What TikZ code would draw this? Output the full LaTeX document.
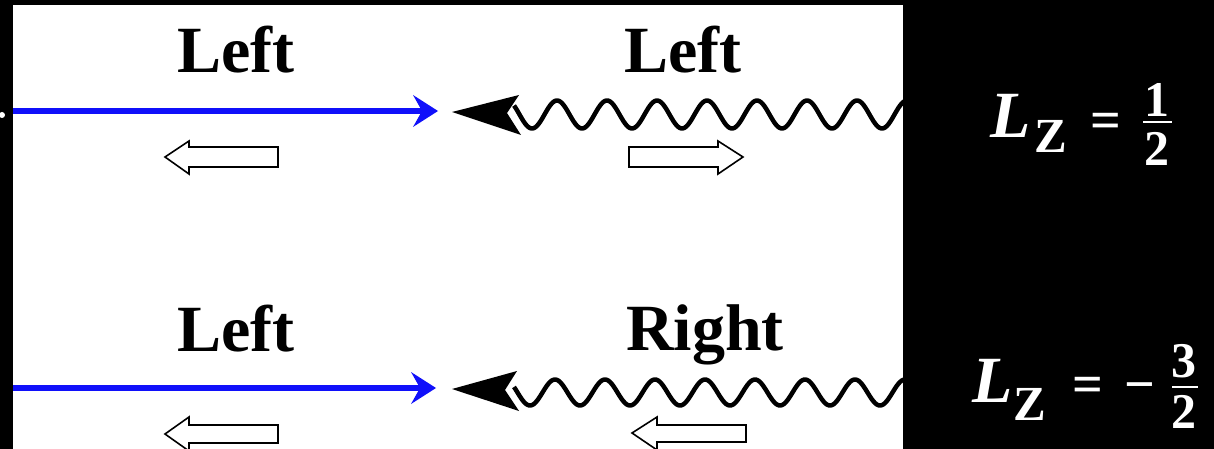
\documentclass[tikz,border=0pt]{standalone}
\usepackage{fontspec}
\setmainfont{Liberation Serif}
\newfontfamily\fmlafont{Liberation Serif}
\usetikzlibrary{arrows.meta}
\definecolor{rayblue}{RGB}{16,16,250}
\begin{document}
\begin{tikzpicture}[x=1pt,y=-1pt,
  lbl/.style={font=\fontsize{66}{66}\selectfont\bfseries, anchor=base, inner sep=0pt},
  bigL/.style={font=\fmlafont\fontsize{66}{66}\selectfont\bfseries\itshape, text=white, anchor=base west, inner sep=0pt},
  subZ/.style={font=\fmlafont\fontsize{49}{49}\selectfont\bfseries, text=white, anchor=base west, inner sep=0pt},
  eqs/.style={font=\fmlafont\fontsize{54}{54}\selectfont\bfseries, text=white, anchor=base, inner sep=0pt},
  digit/.style={font=\fmlafont\fontsize{50}{50}\selectfont\bfseries, text=white, anchor=base, inner sep=0pt},
  fracbar/.style={white, line width=2.5pt},
  ray/.style={rayblue, line width=6pt, -{Stealth[length=25pt,width=32pt,inset=9pt,line width=0pt]}},
  wave/.style={black, line width=4.5pt, line join=round},
  whead/.style={black},
  hollow/.style={draw=black, fill=white, line width=1.6pt, line join=miter}
]
\fill[black] (0,0) rectangle (1214,449);
\useasboundingbox (0,0) rectangle (1214,449);
\fill[white] (13,5) rectangle (903,449);
\fill[white] (2,115) circle (3);

% ---------- top row ----------
\coordinate (r1s) at (13,111);
\coordinate (r1e) at (438,111);
\draw[ray] (r1s) -- (r1e);

\node[lbl] (t1) at (236,73) {Left};
\node[lbl] (t2) at (683,73) {Left};

\begin{scope}
\clip (13,5) rectangle (903,449);
\draw[wave] plot[domain=514:910, samples=240, smooth] (\x,{114.5-14*cos(7.2*(\x-557))});
\draw[wave] plot[domain=514:910, samples=240, smooth] (\x,{392.5-13*cos(7.2*(\x-555))});
\end{scope}
\coordinate (w1tip) at (452,112);
\fill[whead] (w1tip) -- (519,95) -- (507,113) -- (521,135) -- cycle;

\draw[hollow] (165,157) -- (189,141) -- (189,147) -- (278,147) -- (278,167) -- (189,167) -- (189,174) -- cycle;
\draw[hollow] (743,157) -- (718,141) -- (718,147) -- (629,147) -- (629,167) -- (718,167) -- (718,174) -- cycle;

% ---------- bottom row ----------
\coordinate (r2s) at (13,388);
\coordinate (r2e) at (436,388);
\draw[ray] (r2s) -- (r2e);

\node[lbl] (t3) at (236,351) {Left};
\node[lbl] (t4) at (705,350) {Right};

\coordinate (w2tip) at (452,389);
\fill[whead] (w2tip) -- (517,371) -- (505,390) -- (519,411) -- cycle;

\draw[hollow] (165,434) -- (189,417) -- (189,425) -- (278,425) -- (278,443) -- (189,443) -- (189,451) -- cycle;
\draw[hollow] (632,433) -- (657,417) -- (657,425) -- (746,425) -- (746,442) -- (657,442) -- (657,450) -- cycle;

% ---------- formulas ----------
\node[bigL] (L1) at (990,138) {L};
\node[subZ] (Z1) at (1034,153) {Z};
\node[eqs] (eq1) at (1106,139) {=};
\node[digit] (n1) at (1157,117) {1};
\draw[fracbar] (1143,122) -- (1172,122);
\node[digit] (d1) at (1157,165) {2};

\node[bigL] (L2) at (972,402) {L};
\node[subZ] (Z2) at (1013,420) {Z};
\node[eqs] (eq2) at (1087.5,402) {=};
\node[eqs] (mi2) at (1140,402) {−};
\node[digit] (n2) at (1184,377) {3};
\draw[fracbar] (1172,387) -- (1198,387);
\node[digit] (d2) at (1184,428) {2};
\end{tikzpicture}
\end{document}
